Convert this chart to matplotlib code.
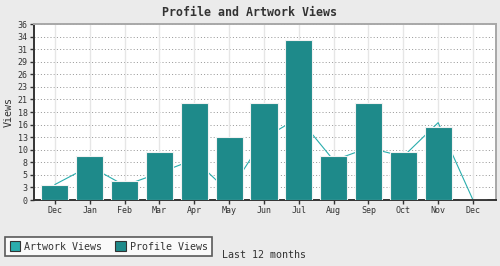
import matplotlib
matplotlib.use("Agg")
import matplotlib.pyplot as plt
import numpy as np
from matplotlib.patches import Patch

months = ["Dec", "Jan", "Feb", "Mar", "Apr", "May", "Jun", "Jul", "Aug", "Sep", "Oct", "Nov", "Dec"]
profile_views = [3, 9, 4, 10, 20, 13, 20, 33, 9, 20, 10, 15, 0]
artwork_views = [3.2, 7, 3, 5.6, 8.4, 1.6, 12.8, 17, 8.2, 10.8, 9, 16, 0]
y_ticks = [2.6 * i for i in range(15)]
y_tick_labels = ["0", "3", "5", "8", "10", "13", "16", "18", "21", "23", "26", "29", "31", "34", "36"]

BG = "#ebebeb"
BAR = "#1e8a8a"
LINE = "#2aadad"
DARK = "#333333"

plt.rcParams['font.family'] = ['DejaVu Sans Mono']

W, H = 500, 266
fig = plt.figure(figsize=(W / 100, H / 100), dpi=100, facecolor=BG)
L, R, T, B = 34, 496, 24, 200
ax = fig.add_axes([L / W, (H - B) / H, (R - L) / W, (B - T) / H])
ax.set_facecolor("white")

x = np.arange(len(months))
ax.set_xlim(-0.6, 12.66)
ax.set_ylim(0, 36.4)

for yt in y_ticks[1:]:
    ax.axhline(yt, color="#999999", lw=0.72, linestyle=(0, (1, 2.2)), zorder=1)
for xi in x:
    ax.axvline(xi, color="#e6e6e6", lw=1.0, zorder=1)

ax.plot(x, artwork_views, color=LINE, lw=0.8, zorder=2)
ax.bar(x, profile_views, width=0.78, color=BAR, edgecolor="#f2f2f2", linewidth=0.8, zorder=3)

ax.set_xticks(x)
ax.set_xticklabels(months, fontsize=6, color=DARK)
ax.set_yticks(y_ticks)
ax.set_yticklabels(y_tick_labels, fontsize=6, color=DARK)
ax.tick_params(axis="both", length=3, width=1, color=DARK, pad=1.5)

for s in ["left", "bottom"]:
    ax.spines[s].set_color(DARK)
    ax.spines[s].set_linewidth(1.4)
for s in ["top", "right"]:
    ax.spines[s].set_color("#a8a8a8")
    ax.spines[s].set_linewidth(1.4)

ax.set_ylabel("Views", fontsize=7.2, color=DARK, labelpad=3)

fig.text(249 / W, 1 - 12 / H, "Profile and Artwork Views", ha="center", va="center",
         fontsize=8.4, fontweight="bold", color=DARK)
fig.text(221.5 / W, 1 - 255 / H, "Last 12 months", ha="left", va="center",
         fontsize=7.2, color=DARK)

handles = [Patch(facecolor=LINE, edgecolor=DARK, linewidth=0.8, label="Artwork Views"),
           Patch(facecolor=BAR, edgecolor=DARK, linewidth=0.8, label="Profile Views")]
leg = fig.legend(handles=handles, loc="lower left", bbox_to_anchor=(5 / W, (H - 256) / H),
                 ncol=2, fontsize=7.2, frameon=True, fancybox=False,
                 handlelength=1.05, handleheight=1.05, handletextpad=0.4, columnspacing=1.3,
                 borderpad=0.45, borderaxespad=0)
leg.get_frame().set_edgecolor(DARK)
leg.get_frame().set_linewidth(1.2)
leg.get_frame().set_facecolor("white")
for t in leg.get_texts():
    t.set_color(DARK)

fig.savefig("out.png", dpi=100, facecolor=BG)
